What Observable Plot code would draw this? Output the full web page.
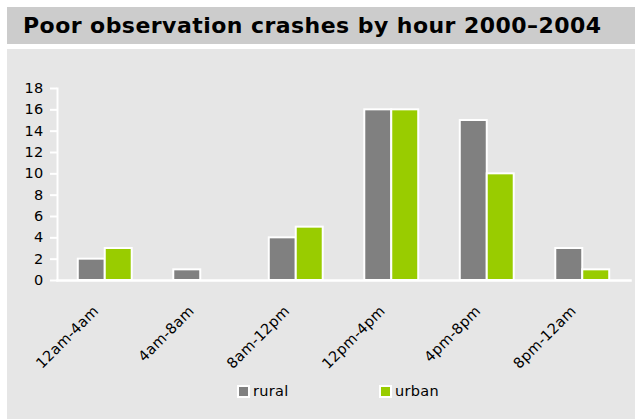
<!DOCTYPE html>
<html>
<head>
<meta charset="utf-8">
<script src="https://cdn.jsdelivr.net/npm/d3@7"></script>
<script src="https://cdn.jsdelivr.net/npm/@observablehq/plot@0.6"></script>
<style>
  html, body { margin: 0; padding: 0; background: #ffffff; }
  body { width: 635px; height: 419px; position: relative; overflow: hidden; font-family: "DejaVu Sans", Verdana, sans-serif; }
  #title { position: absolute; left: 7px; top: 7px; width: 628px; height: 37px; background: #cccccc; }
  #title span { position: absolute; left: 16px; top: 6px; font-size: 22px; letter-spacing: 0.45px; font-weight: bold; color: #000; white-space: nowrap; }
  #panel { position: absolute; left: 7px; top: 49px; width: 628px; height: 370px; background: #e6e6e6; }
  #chart { position: absolute; left: 0; top: 0; }
  .legend-item { position: absolute; top: 334px; display: flex; align-items: center; font-size: 14.5px; letter-spacing: 0.3px; color: #000; }
  .swatch { width: 9px; height: 9px; border: 2px solid #fff; margin-right: 3px; }
</style>
</head>
<body>
<div id="title"><span>Poor observation crashes by hour 2000–2004</span></div>
<div id="panel">
  <div id="chart"></div>
  <div id="legend"></div>
</div>
<script>
const categories = ["12am-4am", "4am-8am", "8am-12pm", "12pm-4pm", "4pm-8pm", "8pm-12am"];
const series = ["rural", "urban"];
const rural = [2, 1, 4, 16, 15, 3];
const urban = [3, 0, 5, 16, 10, 1];
const yTicks = [0, 2, 4, 6, 8, 10, 12, 14, 16, 18];
const colors = ["#808080", "#99cc00"];
const legendLefts = [230, 372];

const data = categories.flatMap((c, i) => [
  {cat: c, series: "rural", value: rural[i]},
  {cat: c, series: "urban", value: urban[i]}
]);

const chart = Plot.plot({
  width: 628,
  height: 325,
  marginLeft: 50,
  marginRight: 5,
  marginTop: 39,
  marginBottom: 94,
  style: {fontFamily: "DejaVu Sans, Verdana, sans-serif", fontSize: "14.5px", letterSpacing: "0.3px", background: "transparent", color: "#000", overflow: "visible"},
  fx: {domain: categories, paddingInner: 0, paddingOuter: 0, round: false, label: null},
  x: {domain: series, axis: null, paddingInner: 0, paddingOuter: 0.77, round: false},
  y: {domain: [0, 18], label: null},
  color: {domain: series, range: colors},
  marks: [
    Plot.axisY({ticks: yTicks, tickSize: 7, tickPadding: 7, stroke: "white", strokeWidth: 2, label: null, fill: "#000"}),
    Plot.axisFx({anchor: "bottom", tickSize: 0, tickRotate: -45, tickPadding: 28, dx: -9, label: null, fill: "#000"}),
    Plot.barY(data, {fx: "cat", x: "series", y: "value", fill: "series", stroke: "white", strokeWidth: 2}),
    Plot.frame({anchor: "bottom", stroke: "white", strokeWidth: 2.5, facet: "super"}),
    Plot.frame({anchor: "left", stroke: "white", strokeWidth: 2, facet: "super"})
  ]
});
document.getElementById("chart").appendChild(chart);

const legend = document.getElementById("legend");
series.forEach((s, i) => {
  const item = document.createElement("div");
  item.className = "legend-item";
  item.style.left = legendLefts[i] + "px";
  const sw = document.createElement("div");
  sw.className = "swatch";
  sw.style.background = colors[i];
  const label = document.createElement("span");
  label.textContent = s;
  item.appendChild(sw);
  item.appendChild(label);
  legend.appendChild(item);
});
</script>
</body>
</html>
